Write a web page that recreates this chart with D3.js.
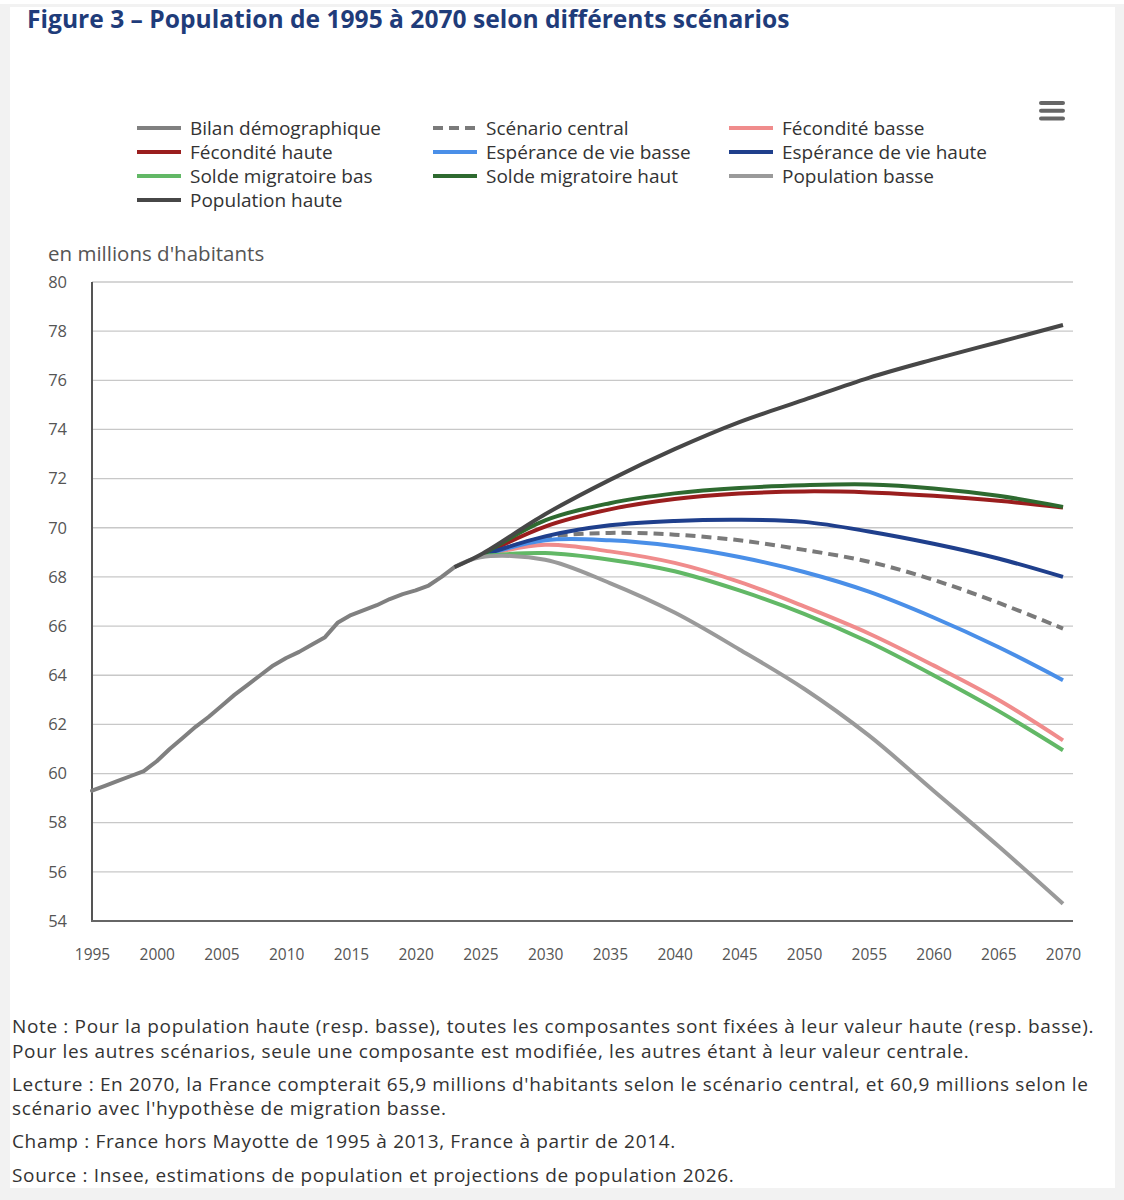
<!DOCTYPE html>
<head>
<meta charset="utf-8">
<title>Population de 1995 à 2070</title>
<style>
body {
  margin: 0;
  background: #f2f2f2;
  font-family: "Open Sans", sans-serif;
}
</style>
<script src="https://cdn.jsdelivr.net/npm/d3@7/dist/d3.min.js"></script>
</head>
<body>
<script>
// bilan démographique (observé), en millions
var bilanYears = [1995,1996,1997,1998,1999,2000,2001,2002,2003,2004,2005,2006,2007,2008,2009,
  2010,2011,2012,2013,2014,2015,2016,2017,2018,2019,2020,2021,2022,2023];
var bilan = [59.3,59.5,59.7,59.9,60.1,60.5,61.0,61.45,61.9,62.3,62.75,63.2,63.6,64.0,64.4,
  64.7,64.95,65.25,65.55,66.15,66.45,66.65,66.85,67.1,67.3,67.45,67.65,68.0,68.4];

// projections
var projYears = [2023,2025,2030,2035,2040,2045,2050,2055,2060,2065,2070];
var central   = [null,68.85,69.6,69.79,69.72,69.49,69.1,68.62,67.88,66.95,65.9];
var fecBasse  = [null,68.85,69.31,69.04,68.57,67.8,66.8,65.7,64.4,63.0,61.35];
var fecHaute  = [null,68.85,70.05,70.75,71.17,71.39,71.48,71.44,71.3,71.1,70.82];
var espBasse  = [null,68.85,69.49,69.49,69.25,68.81,68.2,67.4,66.35,65.15,63.8];
var espHaute  = [null,68.85,69.65,70.1,70.28,70.33,70.24,69.85,69.35,68.75,68.0];
var soldeBas  = [null,68.85,68.97,68.7,68.23,67.45,66.5,65.35,64.0,62.55,60.95];
var soldeHaut = [null,68.85,70.3,71.0,71.4,71.62,71.73,71.76,71.6,71.3,70.85];
var popBasse  = [68.4,68.8,68.7,67.75,66.55,65.05,63.45,61.55,59.3,57.05,54.7];
var popHaute  = [68.4,68.9,70.55,71.95,73.2,74.3,75.2,76.1,76.85,77.55,78.25];

var names = ["Bilan démographique","Scénario central","Fécondité basse","Fécondité haute",
  "Espérance de vie basse","Espérance de vie haute","Solde migratoire bas","Solde migratoire haut",
  "Population basse","Population haute"];
var colors = ["#808080","#7a7a7a","#f08c8c","#9a1e1e","#4a8fe8","#1f3f8c","#62b866","#2e6a30","#9a9a9a","#474747"];

var xTicks = [1995,2000,2005,2010,2015,2020,2025,2030,2035,2040,2045,2050,2055,2060,2065,2070];
var yTicks = [54,56,58,60,62,64,66,68,70,72,74,76,78,80];

var notes = [
  "Note : Pour la population haute (resp. basse), toutes les composantes sont fixées à leur valeur haute (resp. basse).",
  "Pour les autres scénarios, seule une composante est modifiée, les autres étant à leur valeur centrale.",
  "Lecture : En 2070, la France compterait 65,9 millions d'habitants selon le scénario central, et 60,9 millions selon le",
  "scénario avec l'hypothèse de migration basse.",
  "Champ : France hors Mayotte de 1995 à 2013, France à partir de 2014.",
  "Source : Insee, estimations de population et projections de population 2026."
];

var W = 1124, H = 1200;
var svg = d3.select("body").append("svg")
  .attr("width", W).attr("height", H)
  .style("display", "block");

// fond
svg.append("rect").attr("x", 0).attr("y", 0).attr("width", W).attr("height", H).attr("fill", "#f2f2f2");
svg.append("rect").attr("x", 0).attr("y", 0).attr("width", W).attr("height", 4).attr("fill", "#ffffff");
svg.append("rect").attr("x", 10).attr("y", 7).attr("width", 1105).attr("height", 1181).attr("fill", "#ffffff");

svg.append("text")
  .attr("x", 27).attr("y", 28)
  .attr("fill", "#1f3c7a")
  .style("font-size", "24.6px").style("font-weight", "700")
  .text("Figure 3 – Population de 1995 à 2070 selon différents scénarios");

// menu icon
svg.append("g").selectAll("rect").data([0,1,2]).enter().append("rect")
  .attr("x", 1039).attr("y", function(d){ return 101 + d*7.7; })
  .attr("width", 26).attr("height", 4).attr("rx", 2)
  .attr("fill", "#666");

// legende
var leg = svg.append("g");
names.forEach(function(n, i) {
  var col = i % 3, row = Math.floor(i / 3);
  var lx = 137 + col * 296, ly = 128 + row * 24;
  leg.append("line")
    .attr("x1", lx).attr("x2", lx + 44).attr("y1", ly).attr("y2", ly)
    .attr("stroke", colors[i]).attr("stroke-width", 4)
    .attr("stroke-dasharray", i == 1 ? "10,6" : null);
  leg.append("text")
    .attr("x", lx + 53).attr("y", ly).attr("dy", "0.35em")
    .attr("fill", "#333").style("font-size", "19px")
    .text(n);
});

// axes
var x = d3.scaleLinear().domain([1995, 2070]).range([92, 1063]);
var y = d3.scaleLinear().domain([54, 80]).range([921, 282]);

svg.append("text")
  .attr("x", 48).attr("y", 254).attr("dy", "0.35em")
  .attr("fill", "#555").style("font-size", "20.5px")
  .text("en millions d'habitants");

svg.append("g").selectAll("line").data(yTicks).enter().append("line")
  .attr("x1", 92).attr("x2", 1073)
  .attr("y1", function(d){ return y(d); }).attr("y2", function(d){ return y(d); })
  .attr("stroke", "#c8c8c8").attr("stroke-width", 1.3);

var yAxis = svg.append("g").attr("transform", "translate(67,0)")
  .call(d3.axisLeft(y).tickValues(yTicks).tickSize(0).tickPadding(0).tickFormat(d3.format("d")));
yAxis.select(".domain").remove();
yAxis.selectAll("text").attr("fill", "#555").style("font-size", "16.5px").style("font-family", "Open Sans");

var xAxis = svg.append("g").attr("transform", "translate(0,949)")
  .call(d3.axisBottom(x).tickValues(xTicks).tickSize(0).tickPadding(0).tickFormat(d3.format("d")));
xAxis.select(".domain").remove();
xAxis.selectAll("text").attr("fill", "#555").style("font-size", "15.5px").style("font-family", "Open Sans");

svg.append("line").attr("x1", 92).attr("x2", 92).attr("y1", 282).attr("y2", 922)
  .attr("stroke", "#555").attr("stroke-width", 2);
svg.append("line").attr("x1", 91).attr("x2", 1073).attr("y1", 921).attr("y2", 921)
  .attr("stroke", "#666").attr("stroke-width", 2);

// courbes
var histLine = d3.line()
  .x(function(d){ return x(d[0]); })
  .y(function(d){ return y(d[1]); });

var projLine = d3.line()
  .defined(function(d){ return d[1] != null; })
  .x(function(d){ return x(d[0]); })
  .y(function(d){ return y(d[1]); })
  .curve(d3.curveCatmullRom.alpha(0.5));

var series = [null, central, fecBasse, fecHaute, espBasse, espHaute, soldeBas, soldeHaut, popBasse, popHaute];

svg.append("path")
  .datum(bilanYears.map(function(yr, i){ return [yr, bilan[i]]; }))
  .attr("d", histLine)
  .attr("fill", "none").attr("stroke", colors[0]).attr("stroke-width", 4)
  .attr("stroke-linejoin", "round").attr("stroke-linecap", "round");

series.forEach(function(s, k) {
  if (!s) return;
  svg.append("path")
    .datum(projYears.map(function(yr, i){ return [yr, s[i]]; }))
    .attr("d", projLine)
    .attr("fill", "none").attr("stroke", colors[k]).attr("stroke-width", 4)
    .attr("stroke-linejoin", "round")
    .attr("stroke-dasharray", k == 1 ? "10,6" : null);
});

// notes
var ny = [1026, 1051, 1084, 1108, 1141, 1175];
svg.append("g").selectAll("text").data(notes).enter().append("text")
  .attr("x", 12).attr("y", function(d, i){ return ny[i]; }).attr("dy", "0.35em")
  .attr("fill", "#333").style("font-size", "19px").style("letter-spacing", "0.65px")
  .text(function(d){ return d; });
</script>
</body>
